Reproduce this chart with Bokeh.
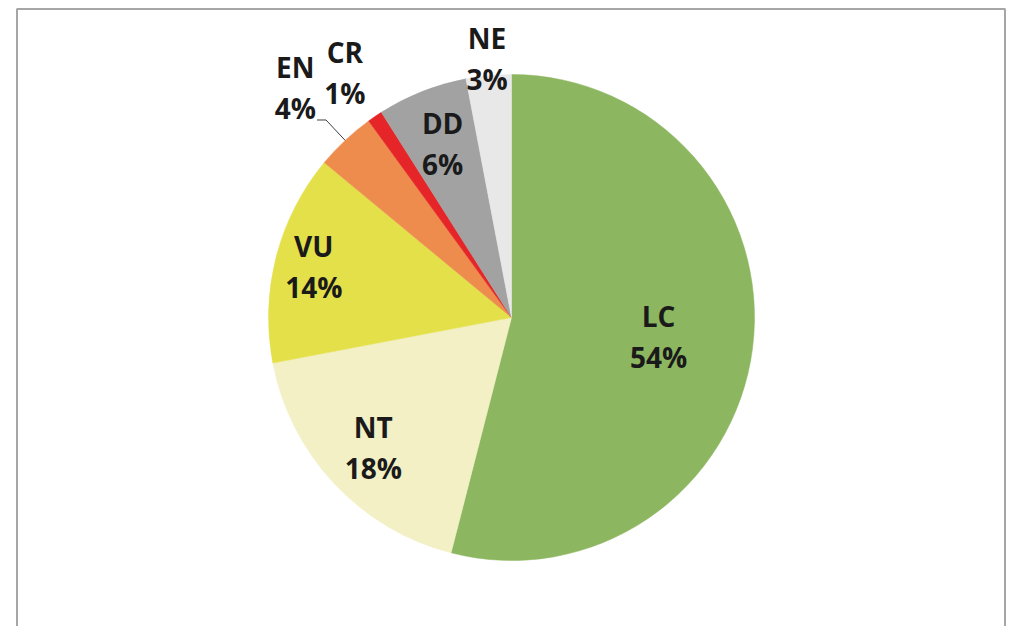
import math
from bokeh.plotting import figure
from bokeh.models import Range1d, ColumnDataSource
from bokeh.core.properties import value
from bokeh.embed import file_html
from bokeh.resources import INLINE

# ---- data ----
categories = ["LC", "NT", "VU", "EN", "CR", "DD", "NE"]
percents = [54, 18, 14, 4, 1, 6, 3]
colors = ["#8db660", "#f2f0c4", "#e4e04a", "#ee8c4e", "#e52528", "#a2a2a2", "#e8e8e8"]

# ---- layout (pixel-like coordinates, y = -pixel_y) ----
W, H = 1011, 626
CX, CY, R = 511, -317, 243
label_r = [0.61, 0.78, 0.84, 1.30, 1.22, 0.77, 1.07]   # label distance as fraction of R
FONT = "Open Sans"
FS = "28px"
LINE_GAP = 41

p = figure(width=W, height=H, output_backend="svg", toolbar_location=None,
           x_range=Range1d(0, W), y_range=Range1d(-H, 0), min_border=0)
p.axis.visible = False
p.grid.visible = False
p.outline_line_color = None
p.background_fill_color = "white"
p.border_fill_color = "white"

# frame
p.quad(left=[16.5], right=[1004.5], top=[-8.5], bottom=[-700], fill_color=None,
       line_color="#a6a6a6", line_width=2)

total = float(sum(percents))
starts, ends, mids = [], [], []
cum = 0.0
for v in percents:
    a0 = cum / total * 2 * math.pi
    cum += v
    a1 = cum / total * 2 * math.pi
    starts.append(math.pi / 2 - a0)
    ends.append(math.pi / 2 - a1)
    mids.append((a0 + a1) / 2)

src = ColumnDataSource(dict(start=starts, end=ends, color=colors, cat=categories))
p.wedge(x=CX, y=CY, radius=R, start_angle="start", end_angle="end", direction="clock",
        fill_color="color", line_color="color", line_width=0.5, source=src)

lx, ly1, ly2, t1, t2 = [], [], [], [], []
for cat, v, m, lr in zip(categories, percents, mids, label_r):
    x = CX + R * lr * math.sin(m)
    y = CY + R * lr * math.cos(m)
    lx.append(x)
    ly1.append(y + LINE_GAP / 2)
    ly2.append(y - LINE_GAP / 2)
    t1.append(cat)
    t2.append(f"{v}%")

lsrc = ColumnDataSource(dict(x=lx, y1=ly1, y2=ly2, t1=t1, t2=t2))
for ycol, tcol in (("y1", "t1"), ("y2", "t2")):
    p.text(x="x", y=ycol, text=tcol, source=lsrc, text_font=value(FONT),
           text_font_size=FS, text_font_style="bold", text_color="#1a1a1a",
           text_align="center", text_baseline="middle")

# leader line for EN
i = categories.index("EN")
m = mids[i]
ex, ey = CX + R * math.sin(m), CY + R * math.cos(m)
kx, ky = CX + R * 1.115 * math.sin(m), CY + R * 1.115 * math.cos(m)
p.line(x=[kx - 9, kx, ex], y=[ky, ky, ey], line_color="#404040", line_width=1)

open("out.html", "w").write(file_html(p, INLINE))
